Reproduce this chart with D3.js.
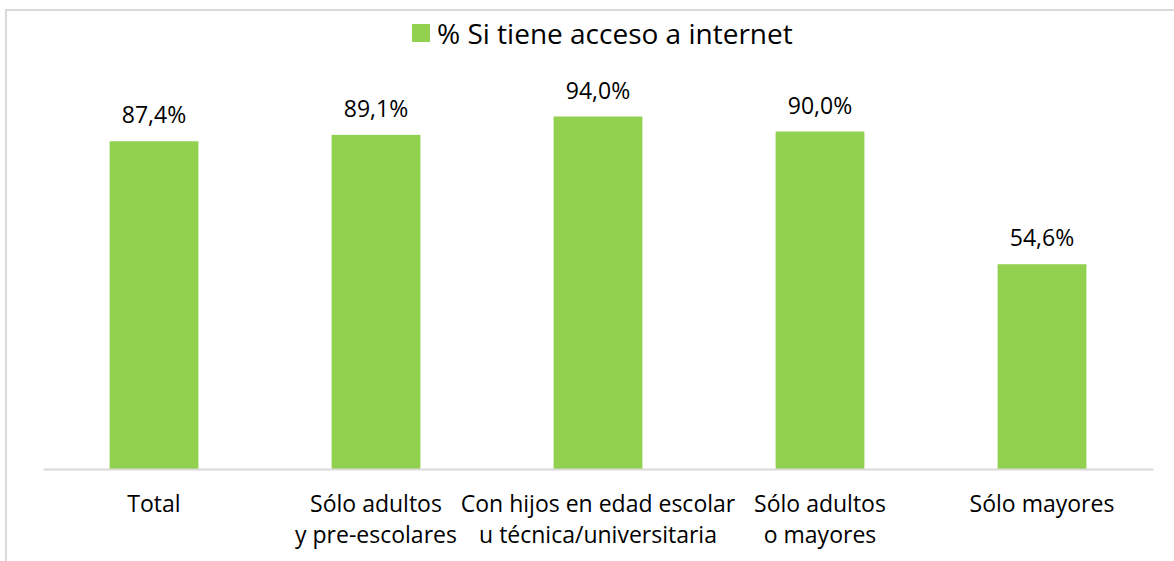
<!DOCTYPE html>
<html>
<head>
<meta charset="utf-8">
<script src="https://cdn.jsdelivr.net/npm/d3@7"></script>
<style>
  body { margin: 0; background: #fff; }
  svg { display: block; font-family: "Open Sans", "Noto Sans", sans-serif; }
</style>
</head>
<body>
<div id="chart"></div>
<script>
const categories = [
  ["Total"],
  ["Sólo adultos", "y pre-escolares"],
  ["Con hijos en edad escolar", "u técnica/universitaria"],
  ["Sólo adultos", "o mayores"],
  ["Sólo mayores"]
];
const values = [87.4, 89.1, 94.0, 90.0, 54.6];
const seriesName = "% Si tiene acceso a internet";

const W = 1174, H = 561;
const margin = { top: 94, right: 21, bottom: 92, left: 43 };
const green = "#92d050";

const svg = d3.select("#chart").append("svg")
  .attr("width", W)
  .attr("height", H);

// marco del gráfico
svg.append("rect")
  .attr("x", 6)
  .attr("y", 10)
  .attr("width", W + 20)
  .attr("height", H + 20)
  .attr("fill", "none")
  .attr("stroke", "#d9d9d9")
  .attr("stroke-width", 2);

const x = d3.scaleBand()
  .domain(d3.range(categories.length))
  .range([margin.left, W - margin.right])
  .paddingInner(0.6)
  .paddingOuter(0.3);

const y = d3.scaleLinear()
  .domain([0, 100])
  .range([H - margin.bottom, margin.top]);

// barras
svg.selectAll("rect.bar")
  .data(values)
  .join("rect")
  .attr("class", "bar")
  .attr("x", (d, i) => x(i))
  .attr("y", d => y(d))
  .attr("width", x.bandwidth())
  .attr("height", d => y(0) - y(d))
  .attr("fill", green);

// eje X
const xAxis = svg.append("g")
  .attr("transform", `translate(0,${y(0)})`)
  .call(d3.axisBottom(x).tickSize(0).tickFormat(""));
xAxis.select(".domain").attr("stroke", "#d9d9d9").attr("stroke-width", 2);

const labels = svg.append("g");
categories.forEach((lines, i) => {
  const t = labels.append("text")
    .attr("text-anchor", "middle")
    .attr("font-size", 23)
    .attr("fill", "#000");
  lines.forEach((line, j) => {
    t.append("tspan")
      .attr("x", x(i) + x.bandwidth() / 2)
      .attr("y", y(0) + 43 + j * 31)
      .text(line);
  });
});

// etiquetas de valores
svg.selectAll("text.val")
  .data(values)
  .join("text")
  .attr("class", "val")
  .attr("x", (d, i) => x(i) + x.bandwidth() / 2)
  .attr("y", d => y(d) - 18)
  .attr("text-anchor", "middle")
  .attr("font-size", 23)
  .attr("fill", "#000")
  .text(d => d.toFixed(1).replace(".", ",") + "%");

// leyenda
const legend = svg.append("g");
legend.append("rect")
  .attr("x", 412)
  .attr("y", 24)
  .attr("width", 18)
  .attr("height", 18)
  .attr("fill", green);
legend.append("text")
  .attr("x", 437)
  .attr("y", 44)
  .attr("font-size", 28)
  .attr("fill", "#000")
  .text(seriesName);
</script>
</body>
</html>
